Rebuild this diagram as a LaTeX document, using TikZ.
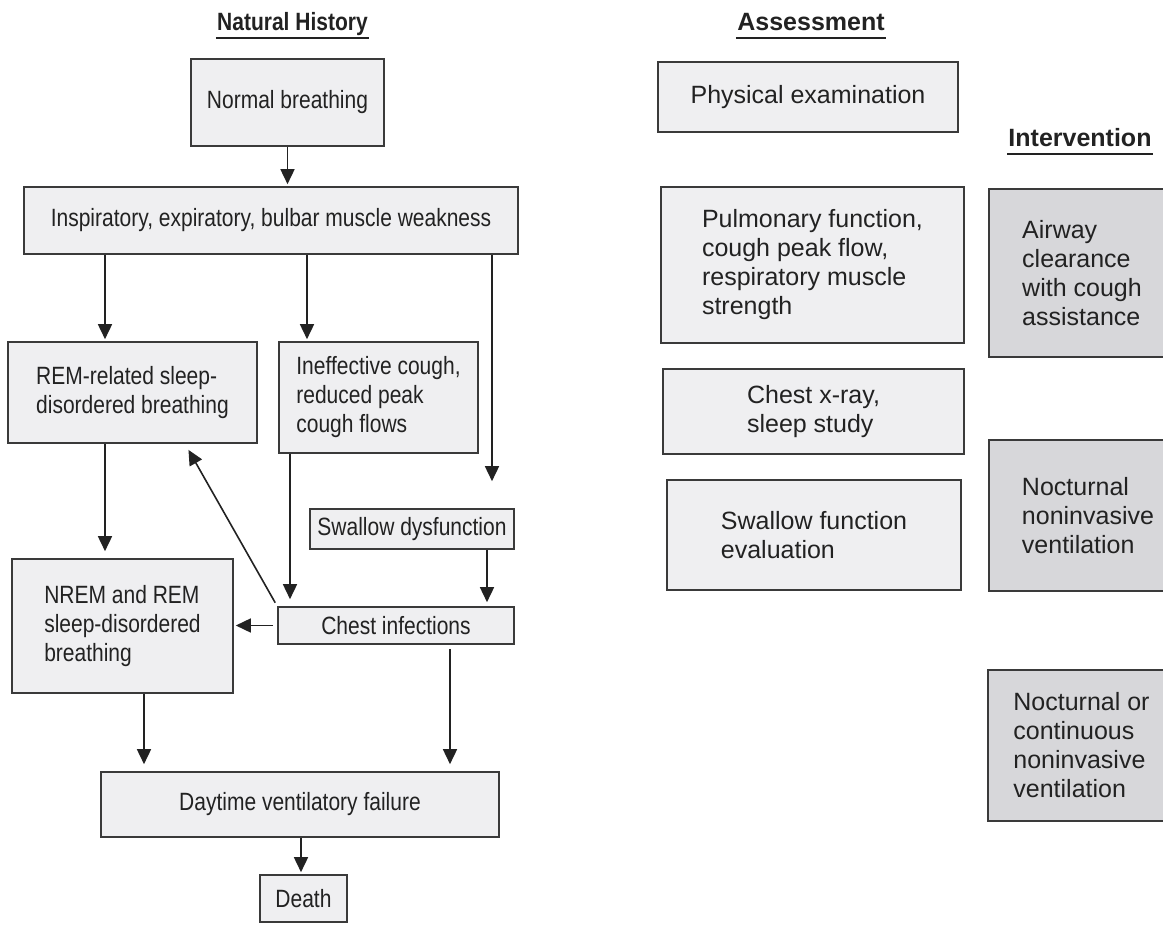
\documentclass[tikz,border=0pt]{standalone}
\usepackage{fontspec}
\setmainfont{Liberation Sans}
\newfontfamily\narrowfont[FakeStretch=0.84]{Liberation Sans}
\usetikzlibrary{arrows.meta}
\definecolor{boxfill}{HTML}{EFEFF1}
\definecolor{ivfill}{HTML}{D7D7DA}
\definecolor{boxline}{HTML}{3A3A3A}
\definecolor{txt}{HTML}{222222}
\begin{document}
\begin{tikzpicture}[x=0.5pt,y=-0.5pt,
    box/.style={draw=boxline, fill=boxfill, line width=0.8pt, inner sep=0pt, align=left, text=txt,
      font=\narrowfont\fontsize{12.5}{14.5}\selectfont},
    abox/.style={box, font=\fontsize{12.5}{14.5}\selectfont},
    ibox/.style={abox, fill=ivfill},
    heading/.style={anchor=south, text=txt, inner xsep=0.5pt, inner ysep=1.5pt, text height=0.72em, text depth=0.22em,
      font=\bfseries\fontsize{12.5}{15}\selectfont},
    arr/.style={-{Triangle[length=7.5pt,width=7pt]}, draw=txt, line width=0.8pt, shorten >=1pt}]
  \path[use as bounding box] (0,0) rectangle (1163,925);
  \path
    (292.5,38) node[heading, font=\narrowfont\bfseries\fontsize{12.5}{15}\selectfont] (hnat) {Natural History}
    (811,38) node[heading] (hass) {Assessment}
    (1080,154) node[heading] (hint) {Intervention}
    (287.5,102.5) node[box, minimum width=96.5pt, minimum height=43.5pt] (normal) {Normal breathing}
    (271,220.5) node[box, minimum width=247pt, minimum height=33.5pt] (weak) {Inspiratory, expiratory, bulbar muscle weakness}
    (132.5,392.5) node[box, minimum width=124.5pt, minimum height=50.5pt] (rem) {REM-related sleep-\\disordered breathing}
    (378.5,397.5) node[box, minimum width=99.5pt, minimum height=55.5pt] (cough) {Ineffective cough,\\reduced peak\\cough flows}
    (412,529) node[box, minimum width=102pt, minimum height=20pt] (swd) {Swallow dysfunction}
    (396,625.5) node[box, minimum width=118pt, minimum height=18.5pt] (chest) {Chest infections}
    (122.5,626) node[box, minimum width=110.5pt, minimum height=67pt] (nrem) {NREM and REM\\sleep-disordered\\breathing}
    (300,804.5) node[box, minimum width=199pt, minimum height=32.5pt] (vfail) {Daytime ventilatory failure}
    (303.5,898.5) node[box, minimum width=43.5pt, minimum height=23.5pt] (death) {Death}
    (808,97) node[abox, minimum width=150pt, minimum height=35pt] (exam) {Physical examination}
    (812.5,265) node[abox, minimum width=151.5pt, minimum height=78pt] (pft) {Pulmonary function,\\cough peak flow,\\respiratory muscle\\strength}
    (813.5,411.5) node[abox, minimum width=150.5pt, minimum height=42.5pt] (xray) {Chest x-ray,\\sleep study}
    (814,535) node[abox, minimum width=147pt, minimum height=55pt] (swe) {Swallow function\\evaluation}
    (1082,273) node[ibox, minimum width=93pt, minimum height=84pt] (acl) {Airway\\clearance\\with cough\\assistance}
    (1088,515.5) node[ibox, minimum width=99pt, minimum height=75.5pt] (niv) {Nocturnal\\noninvasive\\ventilation}
    (1081.5,745.5) node[ibox, minimum width=93.5pt, minimum height=75.5pt] (cniv) {Nocturnal or\\continuous\\noninvasive\\ventilation};
  \begin{scope}[line width=1.3pt, draw=txt]
    \draw (hnat.south west) -- (hnat.south east);
    \draw (hass.south west) -- (hass.south east);
    \draw (hint.south west) -- (hint.south east);
  \end{scope}
  \begin{scope}[arr]
    \draw (normal.south) -- (normal.south |- weak.north);
    \draw (105,0 |- weak.south) -- (105,0 |- rem.north);
    \draw (307,0 |- weak.south) -- (307,0 |- cough.north);
    \draw[shorten >=13.5pt] (492,0 |- weak.south) -- (492,0 |- swd.north);
    \draw[shorten >=3.5pt] (105,0 |- rem.south) -- (105,0 |- nrem.north);
    \draw[shorten >=3.5pt] (290,0 |- cough.south) -- (290,0 |- chest.north);
    \draw[shorten >=2pt] (487,0 |- swd.south) -- (487,0 |- chest.north);
    \draw[shorten <=2pt, shorten >=3.5pt] (chest.north west) -- (185,0 |- rem.south);
    \draw[shorten <=2pt] (chest.west) -- (chest.west -| nrem.east);
    \draw[shorten >=3.5pt] (144,0 |- nrem.south) -- (144,0 |- vfail.north);
    \draw[shorten <=2pt, shorten >=3.5pt] (450,0 |- chest.south) -- (450,0 |- vfail.north);
    \draw (301,0 |- vfail.south) -- (301,0 |- death.north);
  \end{scope}
\end{tikzpicture}
\end{document}
